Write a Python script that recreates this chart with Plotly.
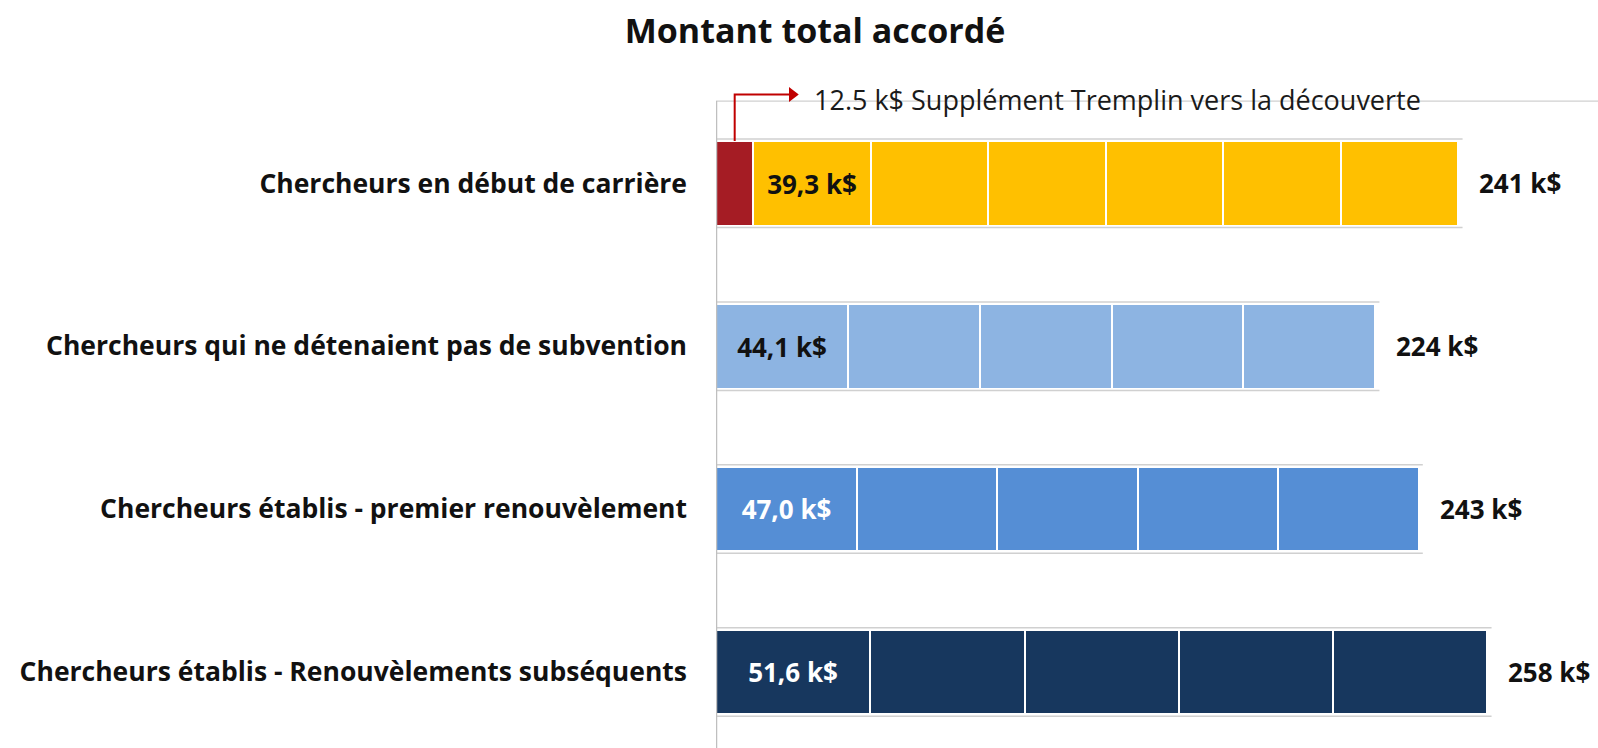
import plotly.graph_objects as go

# ---- data ----
categories = [
    "Chercheurs en début de carrière",
    "Chercheurs qui ne détenaient pas de subvention",
    "Chercheurs établis - premier renouvèlement",
    "Chercheurs établis - Renouvèlements subséquents",
]
annual_amounts = [39.3, 44.1, 47.0, 51.6]
n_years = [6, 5, 5, 5]
supplement = [12.5, 0, 0, 0]
segment_labels = ["39,3 k$", "44,1 k$", "47,0 k$", "51,6 k$"]
total_labels = ["241 k$", "224 k$", "243 k$", "258 k$"]
supplement_label = "12.5 k$ Supplément Tremplin vers la découverte"

colors = ["#FFC000", "#8DB4E2", "#558ED5", "#17375E"]
label_colors = ["#111111", "#111111", "#FFFFFF", "#FFFFFF"]
red = "#A51C24"

rows = list(range(len(categories)))
FONT = "Open Sans"
BAR_W = 0.52
X_MAX = 295
Y_TOP_FRAME = -0.505   # top frame line (data units)
Y_BOTTOM = 3.467

fig = go.Figure()

# frame: top line
fig.add_trace(go.Scatter(x=[0, X_MAX], y=[Y_TOP_FRAME, Y_TOP_FRAME], mode="lines",
                         line=dict(color="#D0D0D0", width=1.2), hoverinfo="skip", showlegend=False))

# background thin gray lines above/below each bar
totals = [supplement[i] + annual_amounts[i] * n_years[i] for i in rows]
lx, ly = [], []
for i in rows:
    for off in (-0.272, 0.272):
        lx += [0, totals[i] + 1.4, None]
        ly += [i + off, i + off, None]
fig.add_trace(go.Scatter(x=lx, y=ly, mode="lines", line=dict(color="#D0D0D0", width=1.5),
                         hoverinfo="skip", showlegend=False))

# supplement segment
fig.add_trace(go.Bar(
    y=rows, x=supplement, orientation="h", width=BAR_W,
    marker=dict(color=red, line=dict(color="white", width=2)),
    showlegend=False, hoverinfo="skip",
))

max_years = max(n_years)
for k in range(max_years):
    xs = [annual_amounts[i] if k < n_years[i] else 0 for i in rows]
    texts = [segment_labels[i] if k == 0 else "" for i in rows]
    fig.add_trace(go.Bar(
        y=rows, x=xs, orientation="h", width=BAR_W,
        marker=dict(color=colors, line=dict(color="white", width=2)),
        text=texts, textposition="inside", insidetextanchor="middle",
        textangle=0,
        textfont=dict(family=FONT, size=26, color=label_colors, weight="bold"),
        showlegend=False, hoverinfo="skip",
    ))

# left axis line
fig.add_trace(go.Scatter(x=[0, 0], y=[Y_TOP_FRAME, Y_BOTTOM], mode="lines",
                         line=dict(color="#BFBFBF", width=2.5), hoverinfo="skip", showlegend=False))

# elbow arrow for supplement
sup_mid = supplement[0] / 2
fig.add_trace(go.Scatter(
    x=[sup_mid, sup_mid, 25.5], y=[-BAR_W / 2, -0.545, -0.545],
    mode="lines", line=dict(color="#C00000", width=2),
    hoverinfo="skip", showlegend=False,
))
fig.add_trace(go.Scatter(
    x=[25.5], y=[-0.545], mode="markers", cliponaxis=False,
    marker=dict(symbol="triangle-right", size=13, color="#C00000"),
    hoverinfo="skip", showlegend=False,
))

annotations = [
    dict(x=32.0, y=-0.515, xref="x", yref="y", text=supplement_label, showarrow=False,
         xanchor="left", yanchor="middle", font=dict(family=FONT, size=27, color="#1A1A1A")),
]
for i in rows:
    annotations.append(dict(
        x=totals[i], y=i, xref="x", yref="y", text="<b>" + total_labels[i] + "</b>",
        showarrow=False, xanchor="left", yanchor="middle", xshift=19,
        font=dict(family=FONT, size=26, color="#111111"),
    ))

fig.update_layout(
    width=1598, height=748,
    margin=dict(l=716, r=0, t=60, b=0, pad=0),
    paper_bgcolor="white", plot_bgcolor="white",
    barmode="stack", bargap=0,
    title=dict(text="<b>Montant total accordé</b>", x=815 / 1598, xanchor="center",
               xref="container", y=1 - 31 / 748, yref="container", yanchor="middle",
               font=dict(family=FONT, size=34, color="#111111")),
    xaxis=dict(range=[0, X_MAX], showgrid=False, zeroline=False, showticklabels=False,
               ticks="", showline=False),
    yaxis=dict(range=[Y_BOTTOM, -0.757], tickvals=rows, ticktext=categories,
               showgrid=False, zeroline=False, ticks="", showline=False,
               ticklabelstandoff=28,
               tickfont=dict(family=FONT, size=26.5, color="#111111", weight="bold")),
    annotations=annotations,
)

fig.write_html("out.html", post_script="document.body.style.margin='0';",
               config={"displayModeBar": False})
